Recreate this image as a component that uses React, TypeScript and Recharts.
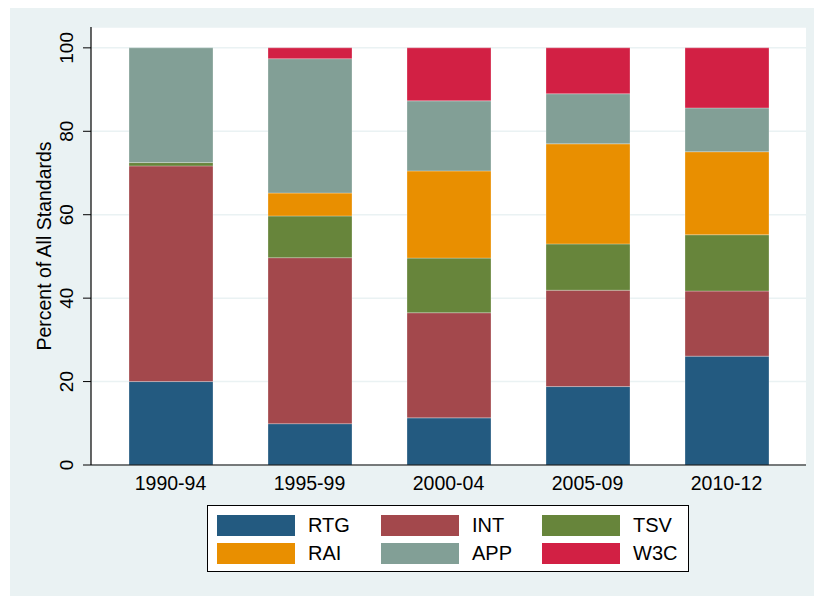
import React from 'react';
import { BarChart, Bar, XAxis, YAxis, CartesianGrid } from 'recharts';

// periods on the x axis
const periods = ['1990-94', '1995-99', '2000-04', '2005-09', '2010-12'];

// share of all standards (%) by body
const rtg = [20.0, 9.9, 11.3, 18.8, 26.1];
const int = [51.7, 39.8, 25.2, 23.1, 15.6];
const tsv = [0.8, 10.0, 13.1, 11.1, 13.5];
const rai = [0.0, 5.5, 20.9, 24.0, 19.9];
const app = [27.5, 32.2, 16.8, 12.0, 10.5];
const w3c = [0.0, 2.6, 12.7, 11.0, 14.4];

const yTicks = [0, 20, 40, 60, 80, 100];

const series = [
  { key: 'RTG', values: rtg, color: '#235A80' },
  { key: 'INT', values: int, color: '#A3484C' },
  { key: 'TSV', values: tsv, color: '#67853B' },
  { key: 'RAI', values: rai, color: '#E98F00' },
  { key: 'APP', values: app, color: '#829F96' },
  { key: 'W3C', values: w3c, color: '#D22044' },
];

const chartData = periods.map((p, i) => {
  const row: Record<string, string | number> = { period: p };
  series.forEach(s => {
    row[s.key] = s.values[i];
  });
  return row;
});

const FONT = '"Liberation Sans", Arial, Helvetica, sans-serif';
const PANEL = '#EAF2F3';

function YTick(props: any) {
  const { y, payload } = props;
  const bx = 63;
  return (
    <text
      x={bx}
      y={y}
      transform={`rotate(-90, ${bx}, ${y})`}
      textAnchor="middle"
      fontSize={19}
      fontFamily={FONT}
      fill="#000"
    >
      {payload.value}
    </text>
  );
}

// legend order: row by row, three columns
const legendCols = [9, 173, 334];
const legendRows = [9, 37];

export default function App() {
  return (
    <div style={{ position: 'absolute', left: 0, top: 0, width: 814, height: 596, background: '#fff' }}>
      <div style={{ position: 'absolute', left: 10, top: 8, width: 804, height: 588, background: PANEL }}>
        <BarChart
          width={804}
          height={588}
          data={chartData}
          margin={{ top: 19, right: 8, left: 0, bottom: 101 }}
          barSize={84}
        >
          <CartesianGrid vertical={false} stroke={PANEL} strokeWidth={1.5} fill="#fff" />
          <XAxis
            dataKey="period"
            height={30}
            padding={{ left: 10, right: 10 }}
            axisLine={{ stroke: '#000', strokeWidth: 1.2 }}
            tickLine={false}
            tickMargin={5}
            tick={{ fontSize: 19.5, fontFamily: FONT, fill: '#000' }}
          />
          <YAxis
            width={81}
            domain={[0, 105]}
            ticks={yTicks}
            interval={0}
            allowDataOverflow
            axisLine={{ stroke: '#000', strokeWidth: 1.2 }}
            tickLine={{ stroke: '#000', strokeWidth: 1 }}
            tickSize={8}
            tick={<YTick />}
            label={{
              value: 'Percent of All Standards',
              angle: -90,
              position: 'center',
              dx: -6.5,
              style: { fontSize: 19.5, fontFamily: FONT, fill: '#000' },
            }}
          />
          {series.map(s => (
            <Bar
              key={s.key}
              dataKey={s.key}
              stackId="a"
              fill={s.color}
              stroke="#ffffff"
              strokeOpacity={0.35}
              strokeWidth={0.8}
              isAnimationActive={false}
            />
          ))}
        </BarChart>
      </div>
      <div
        style={{
          position: 'absolute',
          left: 207,
          top: 505,
          width: 482,
          height: 67,
          boxSizing: 'border-box',
          border: '1px solid #000',
          background: '#fff',
          fontFamily: FONT,
        }}
      >
        {series.map((s, i) => {
          const col = i % 3;
          const row = Math.floor(i / 3);
          return (
            <React.Fragment key={s.key}>
              <div
                style={{
                  position: 'absolute',
                  left: legendCols[col],
                  top: legendRows[row],
                  width: 78,
                  height: 21,
                  background: s.color,
                }}
              />
              <div
                style={{
                  position: 'absolute',
                  left: legendCols[col] + 91,
                  top: legendRows[row] - 3,
                  height: 27,
                  lineHeight: '27px',
                  fontSize: 20,
                  color: '#000',
                }}
              >
                {s.key}
              </div>
            </React.Fragment>
          );
        })}
      </div>
    </div>
  );
}
